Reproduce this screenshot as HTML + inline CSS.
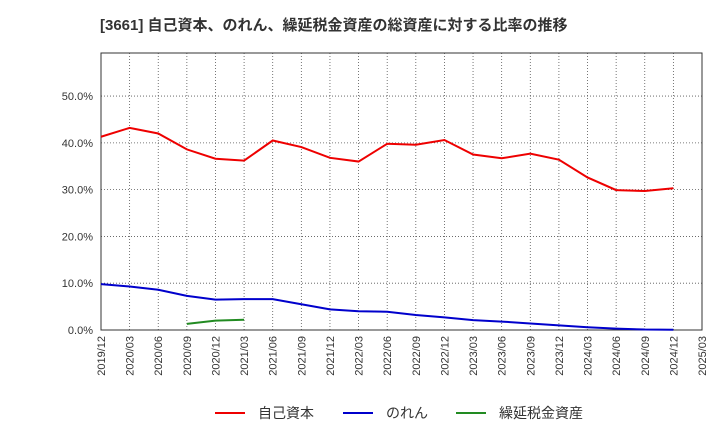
<!DOCTYPE html>
<html><head><meta charset="utf-8"><style>
body{margin:0;background:#fff;font-family:"Liberation Sans","Noto Sans CJK JP",sans-serif;}
</style></head><body>
<svg width="720" height="440" xmlns="http://www.w3.org/2000/svg" id="c">
<text x="100" y="30" font-size="15" font-weight="bold" fill="#333" font-family="Liberation Sans, Noto Sans CJK JP, sans-serif">[3661]  自己資本、のれん、繰延税金資産の総資産に対する比率の推移</text>
<g id="grid"></g><g id="axes"></g><g id="series"></g>
<g font-size="14" font-family="Liberation Sans, Noto Sans CJK JP, sans-serif" fill="#333">
<line x1="215" y1="413" x2="245" y2="413" stroke="#e00" stroke-width="2"/><text x="258" y="418">自己資本</text>
<line x1="343" y1="413" x2="373" y2="413" stroke="#00c" stroke-width="2"/><text x="386" y="418">のれん</text>
<line x1="456" y1="413" x2="486" y2="413" stroke="#228b22" stroke-width="2"/><text x="499" y="418">繰延税金資産</text>
</g>
</svg>
<script>
const categories=["2019/12","2020/03","2020/06","2020/09","2020/12","2021/03","2021/06","2021/09","2021/12","2022/03","2022/06","2022/09","2022/12","2023/03","2023/06","2023/09","2023/12","2024/03","2024/06","2024/09","2024/12","2025/03"];
const equity=[41.3,43.2,42.0,38.6,36.6,36.2,40.5,39.1,36.8,36.0,39.8,39.6,40.6,37.5,36.7,37.7,36.4,32.6,29.9,29.7,30.3];
const goodwill=[9.8,9.3,8.6,7.3,6.5,6.6,6.6,5.5,4.4,4.0,3.9,3.2,2.7,2.1,1.8,1.4,1.0,0.6,0.3,0.1,0.05];
const dtaStart=3;
const dta=[1.3,2.0,2.2];
const yTicks=[0,10,20,30,40,50];
const NS="http://www.w3.org/2000/svg";
const L=101,R=702,T=53,B=330;
const xs=i=>L+(R-L)*i/(categories.length-1);
const ys=v=>B-(B-T)*v/59.2;
function mk(tag,a,p){const e=document.createElementNS(NS,tag);for(const k in a)e.setAttribute(k,a[k]);p.appendChild(e);return e;}
const g=document.getElementById('grid'),ax=document.getElementById('axes'),s=document.getElementById('series');
categories.forEach((c,i)=>{
 const l=mk('line',{x1:xs(i),x2:xs(i),y1:T,y2:B,stroke:'#555','stroke-width':0.8,'stroke-dasharray':'1,2'},g);
 
 
 const t=mk('text',{x:0,y:0,'font-size':11,fill:'#333','text-anchor':'end',transform:`translate(${xs(i)+4},${B+6}) rotate(-90)`},ax);
 t.textContent=c;
 
 
});
yTicks.forEach(v=>{
 const l=mk('line',{x1:L,x2:R,y1:ys(v),y2:ys(v),stroke:'#555','stroke-width':0.8,'stroke-dasharray':'1,2'},g);
 
 
 const t=mk('text',{x:L-8,y:ys(v)+4,'font-size':11,fill:'#333','text-anchor':'end'},ax);
 t.textContent=v.toFixed(1)+'%';
 
 
});
const f=mk('rect',{x:L,y:T,width:R-L,height:B-T,fill:'none',stroke:'#333','stroke-width':1},ax);


function line(arr,off,col,name){
 const p=mk('polyline',{points:arr.map((v,i)=>xs(i+off)+','+ys(v)).join(' '),fill:'none',stroke:col,'stroke-width':2},s);
 
 
}
line(equity,0,'#e00','equity-ratio-line');
line(goodwill,0,'#00c','goodwill-ratio-line');
line(dta,dtaStart,'#228b22','deferred-tax-assets-line');
</script>
</body></html>
